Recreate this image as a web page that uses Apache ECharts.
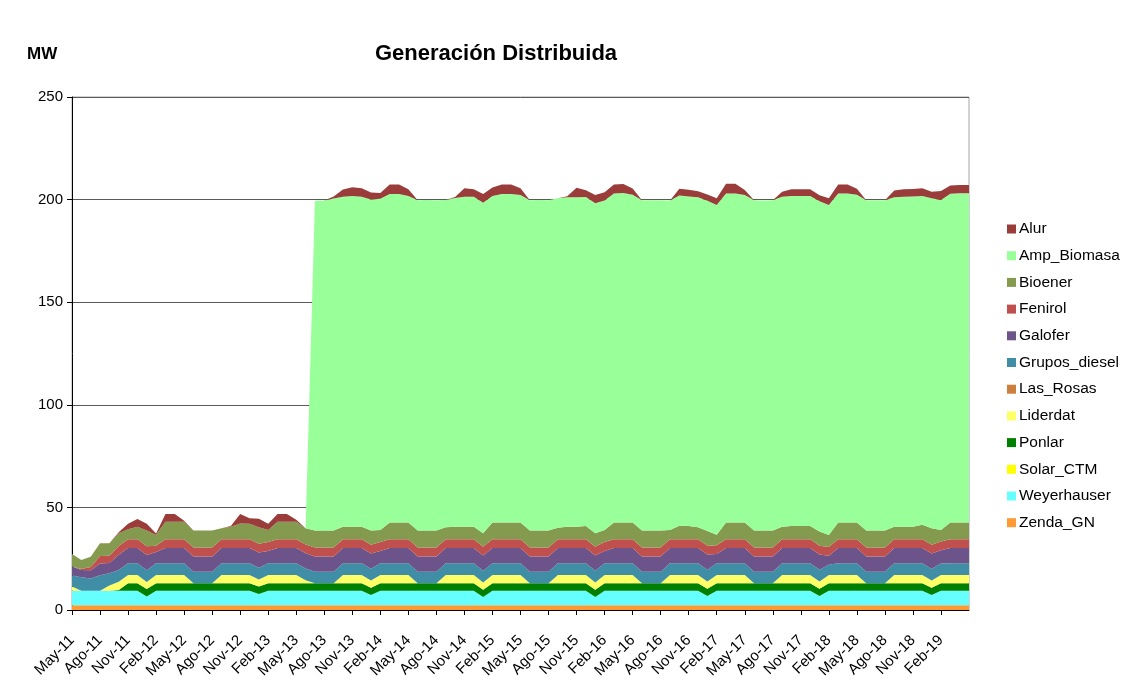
<!DOCTYPE html>
<html>
<head>
<meta charset="utf-8">
<title>Generación Distribuida</title>
<script src="https://cdn.jsdelivr.net/npm/echarts/dist/echarts.min.js"></script>
<style>
  html, body { margin: 0; padding: 0; background: #fff; }
  #chart { width: 1127px; height: 692px; }
</style>
</head>
<body>
<div id="chart"></div>
<script>
// meses: May-11 ... May-19
var meses = [
  'May-11','Jun-11','Jul-11','Ago-11','Sep-11','Oct-11','Nov-11','Dic-11','Ene-12','Feb-12','Mar-12','Abr-12',
  'May-12','Jun-12','Jul-12','Ago-12','Sep-12','Oct-12','Nov-12','Dic-12','Ene-13','Feb-13','Mar-13','Abr-13',
  'May-13','Jun-13','Jul-13','Ago-13','Sep-13','Oct-13','Nov-13','Dic-13','Ene-14','Feb-14','Mar-14','Abr-14',
  'May-14','Jun-14','Jul-14','Ago-14','Sep-14','Oct-14','Nov-14','Dic-14','Ene-15','Feb-15','Mar-15','Abr-15',
  'May-15','Jun-15','Jul-15','Ago-15','Sep-15','Oct-15','Nov-15','Dic-15','Ene-16','Feb-16','Mar-16','Abr-16',
  'May-16','Jun-16','Jul-16','Ago-16','Sep-16','Oct-16','Nov-16','Dic-16','Ene-17','Feb-17','Mar-17','Abr-17',
  'May-17','Jun-17','Jul-17','Ago-17','Sep-17','Oct-17','Nov-17','Dic-17','Ene-18','Feb-18','Mar-18','Abr-18',
  'May-18','Jun-18','Jul-18','Ago-18','Sep-18','Oct-18','Nov-18','Dic-18','Ene-19','Feb-19','Mar-19','Abr-19',
  'May-19'
];

// MW por central (de abajo hacia arriba en la pila)
var zendaGN = [
  2.3,2.3,2.3,2.3,2.3,2.3,2.3,2.3,2.3,2.3,2.3,2.3,
  2.3,2.3,2.3,2.3,2.3,2.3,2.3,2.3,2.3,2.3,2.3,2.3,
  2.3,2.3,2.3,2.3,2.3,2.3,2.3,2.3,2.3,2.3,2.3,2.3,
  2.3,2.3,2.3,2.3,2.3,2.3,2.3,2.3,2.3,2.3,2.3,2.3,
  2.3,2.3,2.3,2.3,2.3,2.3,2.3,2.3,2.3,2.3,2.3,2.3,
  2.3,2.3,2.3,2.3,2.3,2.3,2.3,2.3,2.3,2.3,2.3,2.3,
  2.3,2.3,2.3,2.3,2.3,2.3,2.3,2.3,2.3,2.3,2.3,2.3,
  2.3,2.3,2.3,2.3,2.3,2.3,2.3,2.3,2.3,2.3,2.3,2.3,
  2.3
];
var weyerhauser = [
  7.1,7.1,7.1,7.1,7.1,7.1,7.1,7.1,4.3,7.1,7.1,7.1,
  7.1,7.1,7.1,7.1,7.1,7.1,7.1,7.1,5.5,7.1,7.1,7.1,
  7.1,7.1,7.1,7.1,7.1,7.1,7.1,7.1,5.0,7.1,7.1,7.1,
  7.1,7.1,7.1,7.1,7.1,7.1,7.1,7.1,4.0,7.1,7.1,7.1,
  7.1,7.1,7.1,7.1,7.1,7.1,7.1,7.1,4.0,7.1,7.1,7.1,
  7.1,7.1,7.1,7.1,7.1,7.1,7.1,7.1,4.5,7.1,7.1,7.1,
  7.1,7.1,7.1,7.1,7.1,7.1,7.1,7.1,4.5,7.1,7.1,7.1,
  7.1,7.1,7.1,7.1,7.1,7.1,7.1,7.1,5.0,7.1,7.1,7.1,
  7.1
];
var solarCTM = [
  0,0,0,0,0,0,0,0,0,0,0,0,
  0,0,0,0,0,0,0,0,0,0,0,0,
  0,0,0,0,0,0,0,0,0,0,0,0,
  0,0,0,0,0,0,0,0,0,0,0,0,
  0,0,0,0,0,0,0,0,0,0,0,0,
  0,0,0,0,0,0,0,0,0,0,0,0,
  0,0,0,0,0,0,0,0,0,0,0,0,
  0,0,0,0,0,0,0,0,0,0,0,0,
  0
];
var ponlar = [
  0,0,0,0,0,0.3,3.6,3.6,3.6,3.6,3.6,3.6,
  3.6,3.6,3.6,3.6,3.6,3.6,3.6,3.6,3.6,3.6,3.6,3.6,
  3.6,3.6,3.6,3.6,3.6,3.6,3.6,3.6,3.6,3.6,3.6,3.6,
  3.6,3.6,3.6,3.6,3.6,3.6,3.6,3.6,3.6,3.6,3.6,3.6,
  3.6,3.6,3.6,3.6,3.6,3.6,3.6,3.6,3.6,3.6,3.6,3.6,
  3.6,3.6,3.6,3.6,3.6,3.6,3.6,3.6,3.6,3.6,3.6,3.6,
  3.6,3.6,3.6,3.6,3.6,3.6,3.6,3.6,3.6,3.6,3.6,3.6,
  3.6,3.6,3.6,3.6,3.6,3.6,3.6,3.6,3.6,3.6,3.6,3.6,
  3.6
];
var liderdat = [
  2.0,0,0,0,2.5,4.1,4.1,4.1,3.5,4.1,4.1,4.1,
  4.1,0,0,0,4.1,4.1,4.1,4.1,3.5,4.1,4.1,4.1,
  4.1,1.5,0,0,0,4.1,4.1,4.1,3.5,4.1,4.1,4.1,
  4.1,0,0,0,4.1,4.1,4.1,4.1,3.5,4.1,4.1,4.1,
  4.1,0,0,0,4.1,4.1,4.1,4.1,3.5,4.1,4.1,4.1,
  4.1,0,0,0,4.1,4.1,4.1,4.1,3.5,4.1,4.1,4.1,
  4.1,0,0,0,4.1,4.1,4.1,4.1,3.5,4.1,4.1,4.1,
  4.1,0,0,0,4.1,4.1,4.1,4.1,3.5,4.1,4.1,4.1,
  4.1
];
var lasRosas = [
  0,0,0,0,0,0,0,0,0,0,0,0,
  0,0,0,0,0,0,0,0,0,0,0,0,
  0,0,0,0,0,0,0,0,0,0,0,0,
  0,0,0,0,0,0,0,0,0,0,0,0,
  0,0,0,0,0,0,0,0,0,0,0,0,
  0,0,0,0,0,0,0,0,0,0,0,0,
  0,0,0,0,0,0,0,0,0,0,0,0,
  0,0,0,0,0,0,0,0,0,0,0,0,
  0
];
var gruposDiesel = [
  5.4,6.5,6.0,7.5,6.0,5.7,5.7,5.7,5.7,5.7,5.7,5.7,
  5.7,5.7,5.7,5.7,5.7,5.7,5.7,5.7,5.7,5.7,5.7,5.7,
  5.7,5.7,5.7,5.7,5.7,5.7,5.7,5.7,5.7,5.7,5.7,5.7,
  5.7,5.7,5.7,5.7,5.7,5.7,5.7,5.7,5.7,5.7,5.7,5.7,
  5.7,5.7,5.7,5.7,5.7,5.7,5.7,5.7,5.7,5.7,5.7,5.7,
  5.7,5.7,5.7,5.7,5.7,5.7,5.7,5.7,5.7,5.7,5.7,5.7,
  5.7,5.7,5.7,5.7,5.7,5.7,5.7,5.7,5.7,4.9,5.7,5.7,
  5.7,5.7,5.7,5.7,5.7,5.7,5.7,5.7,5.7,5.5,5.7,5.7,
  5.7
];
var galofer = [
  4.4,3.6,4.0,5.7,5.0,7.4,7.4,7.4,7.4,5.5,7.4,7.4,
  7.4,7.4,7.4,7.4,7.4,7.4,7.4,7.4,7.4,6.0,7.4,7.4,
  7.4,7.4,7.4,7.4,7.4,7.4,7.4,7.4,7.4,6.0,7.4,7.4,
  7.4,7.4,7.4,7.4,7.4,7.4,7.4,7.4,7.4,7.4,7.4,7.4,
  7.4,7.4,7.4,7.4,7.4,7.4,7.4,7.4,7.4,6.0,7.4,7.4,
  7.4,7.4,7.4,7.4,7.4,7.4,7.4,7.4,7.4,4.5,7.4,7.4,
  7.4,7.4,7.4,7.4,7.4,7.4,7.4,7.4,7.4,4.4,7.4,7.4,
  7.4,7.4,7.4,7.4,7.4,7.4,7.4,7.4,7.4,6.5,7.4,7.4,
  7.4
];
var fenirol = [
  0,0.5,1.5,3.7,3.5,4.3,4.3,4.3,4.3,3.0,4.3,4.3,
  4.3,4.3,4.3,4.3,4.3,4.3,4.3,4.3,4.3,4.3,4.3,4.3,
  4.3,4.3,4.3,4.3,4.3,4.3,4.3,4.3,4.3,4.3,4.3,4.3,
  4.3,4.3,4.3,4.3,4.3,4.3,4.3,4.3,4.3,4.3,4.3,4.3,
  4.3,4.3,4.3,4.3,4.3,4.3,4.3,4.3,4.3,4.3,4.3,4.3,
  4.3,4.3,4.3,4.3,4.3,4.3,4.3,4.3,4.3,4.3,4.3,4.3,
  4.3,4.3,4.3,4.3,4.3,4.3,4.3,4.3,4.3,4.3,4.3,4.3,
  4.3,4.3,4.3,4.3,4.3,4.3,4.3,4.3,4.3,4.3,4.3,4.3,
  4.3
];
var bioener = [
  6.1,4.4,5.1,6.2,6.1,6.2,4.8,6.1,7.6,5.2,8.5,8.5,
  8.5,8.3,8.3,8.3,5.3,6.1,7.7,7.5,8.0,5.9,8.5,8.5,
  8.5,7.9,8.3,8.3,8.3,6.1,6.1,6.1,6.9,5.9,8.1,8.1,
  8.1,8.3,8.3,8.3,5.8,6.1,6.1,6.1,6.6,8.1,8.1,8.1,
  8.1,8.3,8.3,8.3,5.6,6.1,6.1,6.4,6.6,5.9,8.1,8.1,
  8.1,8.3,8.3,8.3,4.5,6.5,6.4,5.8,7.2,5.1,8.1,8.1,
  8.1,8.3,8.3,8.3,6.1,6.4,6.4,6.4,7.0,5.8,8.1,8.1,
  8.1,8.3,8.3,8.3,6.1,6.1,6.1,7.0,8.0,5.6,8.1,8.1,
  8.1
];
var ampBiomasa = [
  0,0,0,0,0,0,0,0,0,0,0,0,
  0,0,0,0,0,0,0,0,0,0,0,0,
  0,0,160.8,160.9,161.8,160.8,161.1,160.8,161.3,161.4,160.1,160.1,
  159.2,161.0,161.1,161.0,159.5,160.2,160.8,160.8,161.1,159.2,160.1,160.1,
  159.6,161.0,161.1,161.0,160.6,160.5,160.6,160.4,160.8,160.6,160.4,160.6,
  159.8,161.0,161.0,161.0,160.6,161.0,160.6,160.8,161.0,160.7,160.4,160.4,
  159.6,161.0,160.9,161.0,160.8,160.9,160.9,160.8,160.9,160.9,160.4,160.4,
  159.8,161.0,161.0,161.0,160.6,160.8,160.9,160.3,160.8,160.8,160.3,160.5,
  160.5
];
var alur = [
  0,0,0,0,0,0.5,2.7,3.7,3.3,0.8,3.8,3.8,
  0.5,0,0,0,0,0.3,4.6,2.7,4.2,3.0,3.8,3.8,
  1.0,0,0,0,1.0,3.5,4.3,4.1,3.4,2.8,4.7,4.7,
  3.2,0,0,0,0,0.5,4.1,3.6,4.2,4.1,4.7,4.7,
  3.3,0,0,0,0,0.5,4.6,3.3,4.0,4.0,4.4,4.4,
  3.0,0,0,0,0,3.3,3.3,3.0,3.0,3.2,4.7,4.7,
  2.5,0,0,0,2.4,3.3,3.3,3.3,2.9,3.2,4.4,4.4,
  2.9,0,0,0,3.2,3.7,3.7,3.7,3.2,4.4,4.0,4.0,
  4.0
];

var yTicks = [0, 50, 100, 150, 200, 250];

// orden de apilado, de abajo hacia arriba
var centrales = [
  { name: 'Zenda_GN', data: zendaGN, color: '#FF9933' },
  { name: 'Weyerhauser', data: weyerhauser, color: '#66FFFF' },
  { name: 'Solar_CTM', data: solarCTM, color: '#FFFF00' },
  { name: 'Ponlar', data: ponlar, color: '#008000' },
  { name: 'Liderdat', data: liderdat, color: '#FFFF66' },
  { name: 'Las_Rosas', data: lasRosas, color: '#CD7F3E' },
  { name: 'Grupos_diesel', data: gruposDiesel, color: '#3F8EA5' },
  { name: 'Galofer', data: galofer, color: '#6C548A' },
  { name: 'Fenirol', data: fenirol, color: '#C0504D' },
  { name: 'Bioener', data: bioener, color: '#849A4E' },
  { name: 'Amp_Biomasa', data: ampBiomasa, color: '#99FF99' },
  { name: 'Alur', data: alur, color: '#9A3D3A' }
];

var font = 'Liberation Sans, Arial, sans-serif';
var cada3 = function (i) { return i % 3 === 0 && i < meses.length - 1; };

var chart = echarts.init(document.getElementById('chart'));
chart.setOption({
  animation: false,
  backgroundColor: '#fff',
  title: [{
    text: 'Generación Distribuida',
    left: 375,
    top: 43,
    padding: 0,
    textStyle: { fontFamily: font, fontSize: 22, fontWeight: 'bold', color: '#000' }
  }, {
    text: 'MW',
    left: 27,
    top: 46,
    padding: 0,
    textStyle: { fontFamily: font, fontSize: 17, fontWeight: 'bold', color: '#000' }
  }],
  legend: {
    orient: 'vertical',
    left: 1007,
    top: 221,
    padding: 0,
    icon: 'rect',
    itemWidth: 9,
    itemHeight: 9,
    itemGap: 10.7,
    textStyle: { fontFamily: font, fontSize: 15.5, lineHeight: 16, color: '#000', padding: [0, 0, 0, -2] },
    data: centrales.map(function (c) { return c.name; }).reverse()
  },
  grid: {
    left: 72, right: 158, top: 97, bottom: 82,
    show: true, borderColor: '#a6a6a6', borderWidth: 1, backgroundColor: 'transparent'
  },
  xAxis: {
    type: 'category',
    data: meses,
    boundaryGap: false,
    axisLine: { lineStyle: { color: '#000', width: 1 } },
    axisTick: { interval: cada3, length: 5, lineStyle: { color: '#000' } },
    axisLabel: {
      interval: cada3, rotate: 45, margin: 28,
      fontFamily: font, fontSize: 15, color: '#000'
    },
    splitLine: { show: false }
  },
  yAxis: {
    type: 'value',
    min: yTicks[0],
    max: yTicks[yTicks.length - 1],
    interval: 50,
    axisLine: { show: true, lineStyle: { color: '#000', width: 1 } },
    axisTick: { show: true, length: 5, lineStyle: { color: '#000' } },
    axisLabel: { margin: 9, fontFamily: font, fontSize: 15, color: '#000' },
    splitLine: { lineStyle: { color: '#5a5a5a', width: 1 } }
  },
  series: centrales.map(function (c) {
    return {
      name: c.name,
      type: 'line',
      stack: 'total',
      data: c.data,
      showSymbol: false,
      symbol: 'none',
      lineStyle: { width: 0 },
      itemStyle: { color: c.color },
      areaStyle: { color: c.color, opacity: 1 }
    };
  })
});
</script>
</body>
</html>
